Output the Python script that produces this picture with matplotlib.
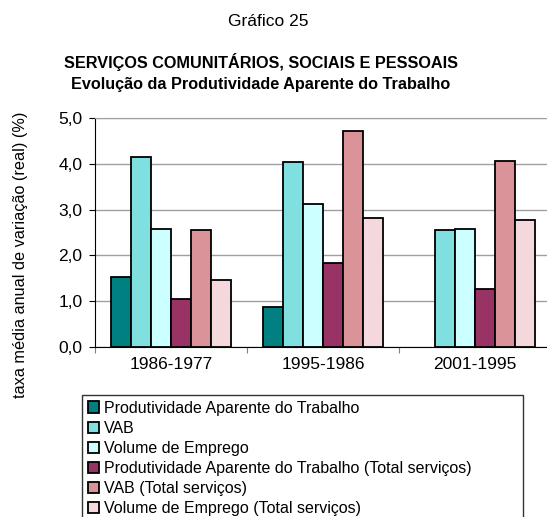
import numpy as np
import matplotlib.pyplot as plt
from matplotlib.patches import Patch

plt.rcParams['font.family'] = ['Liberation Sans', 'DejaVu Sans']

periods = ["1986-1977", "1995-1986", "2001-1995"]
series_names = [
    "Produtividade Aparente do Trabalho",
    "VAB",
    "Volume de Emprego",
    "Produtividade Aparente do Trabalho (Total serviços)",
    "VAB (Total serviços)",
    "Volume de Emprego (Total serviços)",
]
prod = [1.53, 0.88, np.nan]
vab = [4.15, 4.03, 2.55]
emprego = [2.58, 3.12, 2.58]
prod_total = [1.05, 1.84, 1.27]
vab_total = [2.55, 4.72, 4.07]
emprego_total = [1.47, 2.82, 2.78]
colors = ["#008080", "#80E0E0", "#CCFFFF", "#993366", "#DA9499", "#F4D8DC"]

fig = plt.figure(figsize=(5.47, 5.17), dpi=100)
W, H = 547, 517
ax = fig.add_axes([95 / W, 1 - 347 / H, 456 / W, 229 / H])

values = [prod, vab, emprego, prod_total, vab_total, emprego_total]
x = np.arange(len(periods))
bw = 0.132
for i, (vals, c) in enumerate(zip(values, colors)):
    ax.bar(x + (i - 2.5) * bw, vals, bw, color=c, edgecolor="black",
           linewidth=1.3, zorder=3)

ax.set_xlim(-0.5, 2.5)
ax.set_ylim(0, 5)
yt = np.arange(0, 5.01, 1)
ax.set_yticks(yt)
ax.set_yticklabels([f"{v:.1f}".replace(".", ",") for v in yt], fontsize=12.5)
ax.yaxis.grid(True, color="#A0A0A0", linewidth=1, zorder=0)
ax.set_xticks([-0.5, 0.5, 1.5, 2.5])
ax.set_xticklabels([])
ax.set_xticks(x, minor=True)
ax.set_xticklabels(periods, minor=True, fontsize=12.5)
ax.tick_params(axis="x", which="minor", length=0, pad=7)
ax.tick_params(axis="x", which="major", length=4, color="#808080")
ax.tick_params(axis="y", length=4, direction="out", pad=5)
ax.spines["right"].set_visible(False)
ax.spines["top"].set_color("#A0A0A0")
ax.spines["left"].set_color("black")
ax.spines["bottom"].set_color("black")

fig.text(21 / W, 1 - 255 / H, "taxa média anual de variação (real) (%)",
         rotation=90, ha="center", va="center", fontsize=11.7)

fig.text(268 / W, 1 - 22 / H, "Gráfico 25",
         ha="center", va="center", fontsize=12.5)
fig.text(261 / W, 1 - 62 / H, "SERVIÇOS COMUNITÁRIOS, SOCIAIS E PESSOAIS",
         ha="center", va="center", fontsize=11.7, fontweight="bold")
fig.text(261 / W, 1 - 84 / H, "Evolução da Produtividade Aparente do Trabalho",
         ha="center", va="center", fontsize=11.7, fontweight="bold")

handles = [Patch(facecolor=c, edgecolor="black", linewidth=1.3) for c in colors]
leg = fig.legend(handles, series_names, loc="upper left",
                 bbox_to_anchor=(82 / W, 1 - 395 / H, 441 / W, 0.0),
                 mode="expand", fontsize=11.5,
                 frameon=True, fancybox=False, edgecolor="black",
                 handlelength=0.7, handleheight=0.7, handletextpad=0.35,
                 labelspacing=0.32, borderpad=0.35, borderaxespad=0)
leg.get_frame().set_linewidth(1)

fig.savefig("out.png", dpi=100)
